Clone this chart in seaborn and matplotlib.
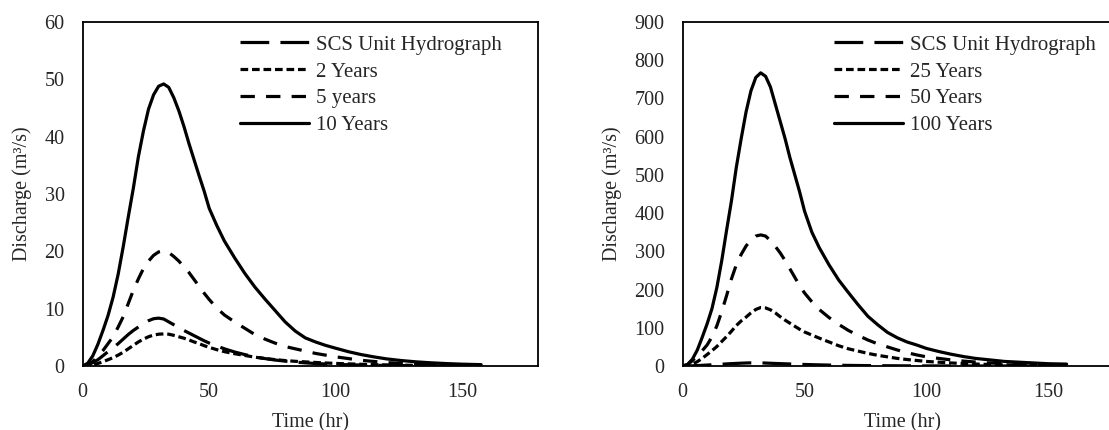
import pandas as pd
import matplotlib
matplotlib.use("Agg")
import matplotlib.pyplot as plt
import seaborn as sns

#-------------------------------------------------------------------------

# Time axis shared by all hydrographs (hr)
time_hr = [0, 2, 4, 6, 8, 10, 12, 14, 16, 18, 20, 22, 24, 26, 28, 30, 32, 34,
           36, 38, 40, 42, 44, 46, 48, 50, 53, 56, 60, 64, 68, 72, 76, 80, 84,
           88, 92, 96, 100, 105, 110, 115, 120, 126, 132, 138, 144, 150, 157.5]

# SCS unit hydrograph (m3/s)
scs_unit = [0, 0.2, 0.6, 1.1, 1.8, 2.5, 3.2, 3.9, 4.7, 5.5, 6.2, 6.8, 7.4, 7.9,
            8.25, 8.35, 8.2, 7.7, 7.2, 6.7, 6.2, 5.75, 5.3, 4.85, 4.4, 4.0, 3.5,
            3.0, 2.45, 2.0, 1.6, 1.3, 1.05, 0.85, 0.68, 0.55, 0.44, 0.35, 0.28,
            0.22, 0.17, 0.13, 0.1, 0.07, 0.05, 0.03, 0.02, 0.01, 0]

# Return period hydrographs (m3/s)
q_2yr = [0, 0.05, 0.2, 0.45, 0.75, 1.1, 1.45, 1.9, 2.4, 3.0, 3.6, 4.2, 4.7, 5.1,
         5.4, 5.55, 5.6, 5.55, 5.35, 5.1, 4.85, 4.55, 4.2, 3.9, 3.55, 3.25, 2.85,
         2.5, 2.15, 1.85, 1.55, 1.3, 1.12, 0.95, 0.82, 0.72, 0.62, 0.53, 0.45,
         0.37, 0.3, 0.24, 0.19, 0.15, 0.11, 0.09, 0.07, 0.05, 0.04]
q_5yr = [0, 0.2, 0.8, 1.7, 2.7, 3.9, 5.1, 6.8, 8.6, 10.9, 13.2, 15.2, 17.0, 18.3,
         19.3, 19.9, 20.1, 19.8, 19.1, 18.3, 17.3, 16.3, 15.1, 13.9, 12.7, 11.6,
         10.1, 8.9, 7.7, 6.6, 5.5, 4.7, 4.0, 3.4, 3.0, 2.6, 2.2, 1.9, 1.6, 1.3,
         1.0, 0.8, 0.6, 0.45, 0.35, 0.27, 0.2, 0.15, 0.1]
q_10yr = [0, 0.5, 1.8, 3.8, 6.2, 8.8, 12.0, 16.0, 20.8, 26.0, 31.0, 36.5, 41.0,
          44.8, 47.3, 48.8, 49.2, 48.6, 46.8, 44.5, 41.8, 38.8, 36.0, 33.2, 30.5,
          27.5, 24.5, 21.8, 18.9, 16.2, 13.8, 11.7, 9.7, 7.7, 6.1, 4.9, 4.2, 3.6,
          3.1, 2.5, 2.0, 1.6, 1.25, 0.95, 0.72, 0.55, 0.42, 0.32, 0.24]
q_25yr = [0, 1.5, 5, 11.5, 20, 30, 40, 51, 64, 77, 91, 106, 118, 128, 139, 148,
          153, 152, 147, 139, 129, 120, 112, 104, 96, 89, 81, 73, 63, 53, 45, 39,
          33, 28, 24, 20, 17, 14.5, 12, 10, 8, 6.5, 5.2, 4, 3.2, 2.5, 2, 1.5, 1.1]
q_50yr = [0, 4, 14, 27, 40, 55, 76, 105, 142, 184, 228, 265, 292, 314, 330, 340,
          343, 340, 328, 313, 296, 276, 254, 232, 210, 191, 168, 148, 127, 109,
          93, 80, 68, 58, 50, 42, 35, 29, 24, 20, 16, 13, 10.5, 8, 6, 4.7, 3.6,
          2.8, 2]
q_100yr = [0, 4, 18, 42, 75, 110, 150, 205, 275, 355, 432, 520, 595, 665, 720,
           755, 767, 758, 730, 685, 640, 595, 545, 500, 455, 405, 350, 310, 265,
           225, 192, 160, 130, 108, 88, 74, 63, 55, 46, 38, 31, 25, 20, 16, 12,
           10, 8, 6, 5]

left_labels = ["SCS Unit Hydrograph", "2 Years", "5 years", "10 Years"]
right_labels = ["SCS Unit Hydrograph", "25 Years", "50 Years", "100 Years"]

#-------------------------------------------------------------------------

# Build a long table for one panel
def make_table(labels, series):
    frames = []
    for name, values in zip(labels, series):
        frames.append(pd.DataFrame({"Time": time_hr, "Discharge": values,
                                    "Series": name}))
    return pd.concat(frames, ignore_index=True)

# Draw one hydrograph panel
def plot_panel(ax, data, labels, ymax, ystep):
    styles = dict(zip(labels, [(9, 3.5), (2.4, 1.2), (4.5, 3.5), ""]))
    sns.lineplot(data=data, x="Time", y="Discharge", style="Series",
                 style_order=labels, dashes=styles, color="black",
                 linewidth=2.3, sort=False, ax=ax)

    ax.set_xlim(0, 180)
    ax.set_ylim(0, ymax)
    ax.set_xticks([0, 50, 100, 150])
    ax.set_yticks(range(0, ymax + 1, ystep))
    ax.tick_params(length=0)
    ax.tick_params(axis="y", pad=13)
    ax.tick_params(axis="x", pad=12)
    ax.set_xlabel("Time (hr)", labelpad=8)
    ax.set_ylabel("Discharge (m³/s)", labelpad=9)
    for spine in ax.spines.values():
        spine.set_color("black")
        spine.set_linewidth(1.3)

    handles, names = ax.get_legend_handles_labels()
    ax.legend(handles, names, loc="upper left", bbox_to_anchor=(0.345, 0.962),
              frameon=False, borderpad=0, borderaxespad=0, handlelength=3.3,
              handletextpad=0.35, labelspacing=0.35, fontsize=15)

#-------------------------------------------------------------------------

def main():
    sns.set_style("white")
    plt.rcParams["font.family"] = ["Liberation Serif", "DejaVu Serif"]
    plt.rcParams["font.size"] = 14.5

    fig = plt.figure(figsize=(11.09, 4.30), dpi=100)
    ax1 = fig.add_axes([0.0746, 0.1488, 0.4106, 0.80])
    ax2 = fig.add_axes([0.6156, 0.1488, 0.3956, 0.80])

    left = make_table(left_labels, [scs_unit, q_2yr, q_5yr, q_10yr])
    right = make_table(right_labels, [scs_unit, q_25yr, q_50yr, q_100yr])

    plot_panel(ax1, left, left_labels, 60, 10)
    plot_panel(ax2, right, right_labels, 900, 100)

    fig.savefig("out.png", dpi=100)

#-------------------------------------------------------------------------

if __name__ == '__main__':
    main()
